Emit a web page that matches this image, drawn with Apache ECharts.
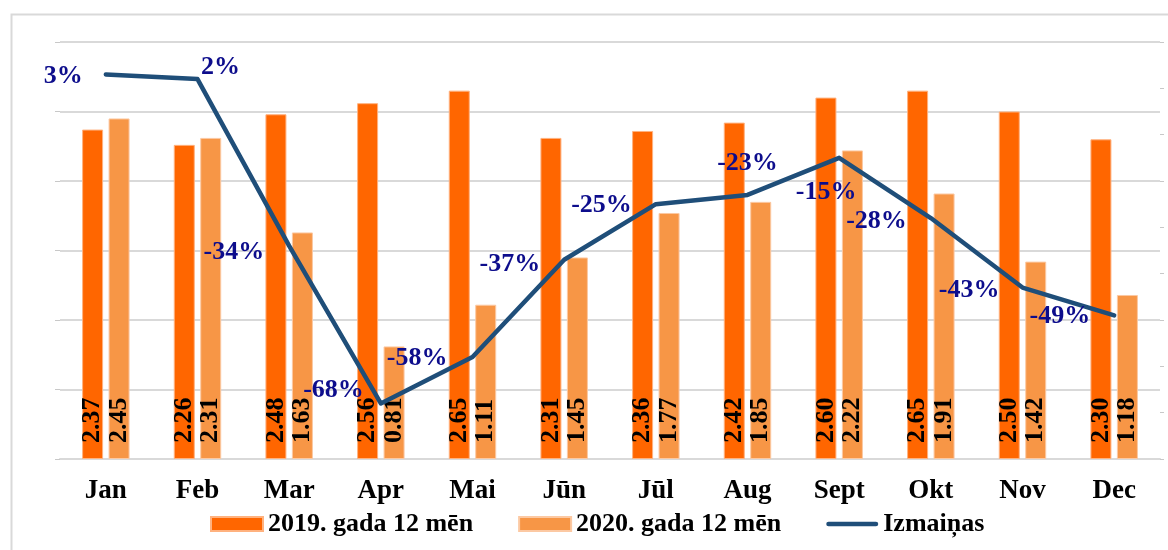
<!DOCTYPE html>
<html>
<head>
<meta charset="utf-8">
<style>
  html, body { margin: 0; padding: 0; background: #fff; }
  #chart { width: 1168px; height: 550px; }
</style>
</head>
<body>
<div id="chart"></div>
<script src="https://cdn.jsdelivr.net/npm/echarts@6/dist/echarts.min.js"></script>
<script type="text/javascript">
  // kategorijas un dati
  var months = ['Jan', 'Feb', 'Mar', 'Apr', 'Mai', 'Jūn', 'Jūl', 'Aug', 'Sept', 'Okt', 'Nov', 'Dec'];
  var values2019 = [2.37, 2.26, 2.48, 2.56, 2.65, 2.31, 2.36, 2.42, 2.60, 2.65, 2.50, 2.30];
  var values2020 = [2.45, 2.31, 1.63, 0.81, 1.11, 1.45, 1.77, 1.85, 2.22, 1.91, 1.42, 1.18];
  var change = [3, 2, -34, -68, -58, -37, -25, -23, -15, -28, -43, -49];

  var seriesNames = ['2019. gada 12 mēn', '2020. gada 12 mēn', 'Izmaiņas'];

  var serif = '"Liberation Serif", "Times New Roman", serif';

  // izmaiņu etiķešu novietojums
  var labelPos = [
    { position: 'left', distance: 22, offset: [0, 2] },
    { position: 'top', distance: 4, offset: [23, 6] },
    { position: 'left', distance: 24, offset: [0, 6] },
    { position: 'left', distance: 16, offset: [0, -13] },
    { position: 'left', distance: 24, offset: [0, 1] },
    { position: 'left', distance: 23, offset: [0, 5] },
    { position: 'left', distance: 23, offset: [0, 1] },
    { position: 'top', distance: 18, offset: [0, 0] },
    { position: 'bottom', distance: 20, offset: [-13, 0] },
    { position: 'left', distance: 23, offset: [0, 3] },
    { position: 'left', distance: 22, offset: [0, 3] },
    { position: 'left', distance: 23, offset: [0, 1] }
  ];

  var lineData = change.map(function (v, i) {
    return { value: v, label: labelPos[i] };
  });

  var chart = echarts.init(document.getElementById('chart'));

  var barLabel = {
    show: true,
    rotate: 90,
    position: 'insideBottom',
    align: 'left',
    verticalAlign: 'middle',
    distance: 16,
    color: '#000',
    fontFamily: serif,
    fontWeight: 'bold',
    fontSize: 26,
    formatter: function (p) { return p.value.toFixed(2); }
  };

  var option = {
    animation: false,
    graphic: [{
      type: 'rect',
      left: 9, top: 12,
      shape: { width: 1200, height: 600 },
      style: { fill: 'none', stroke: '#d9d9d9', lineWidth: 2 },
      silent: true
    }],
    grid: { left: 60, right: 8, top: 42, bottom: 91 },
    legend: {
      left: 205,
      top: 506,
      itemWidth: 52,
      itemHeight: 14,
      itemGap: 45,
      textStyle: { fontFamily: serif, fontWeight: 'bold', fontSize: 26, color: '#000' },
      data: [
        { name: seriesNames[0], icon: 'rect' },
        { name: seriesNames[1], icon: 'rect' },
        { name: seriesNames[2], icon: 'path://M2.5,0 H54.5 A2.5,2.5 0 0 1 54.5,5 H2.5 A2.5,2.5 0 0 1 2.5,0 Z' }
      ]
    },
    xAxis: {
      type: 'category',
      data: months,
      axisLine: { show: true, lineStyle: { color: '#d9d9d9', width: 2 } },
      axisTick: { show: false },
      axisLabel: {
        margin: 19,
        color: '#000',
        fontFamily: serif,
        fontWeight: 'bold',
        fontSize: 27
      }
    },
    yAxis: [{
      type: 'value',
      min: 0,
      max: 3,
      interval: 0.5,
      axisLine: { show: false },
      axisTick: { show: true, length: 5, lineStyle: { color: '#c8c8c8' } },
      axisLabel: { show: false },
      splitLine: { lineStyle: { color: '#d9d9d9', width: 2 } }
    }, {
      type: 'value',
      min: -80,
      max: 10,
      interval: 10,
      axisLine: { show: false },
      axisTick: { show: true, length: 4, lineStyle: { color: '#c8c8c8' } },
      axisLabel: { show: false },
      splitLine: { show: false }
    }],
    series: [{
      name: seriesNames[0],
      type: 'bar',
      data: values2019,
      barWidth: 21,
      barGap: '26%',
      itemStyle: { color: '#FF6600', borderColor: '#ffb27f', borderWidth: 1 },
      label: barLabel
    }, {
      name: seriesNames[1],
      type: 'bar',
      data: values2020,
      barWidth: 21,
      itemStyle: { color: '#F79646', borderColor: '#fcc9a3', borderWidth: 1 },
      label: barLabel
    }, {
      name: seriesNames[2],
      type: 'line',
      yAxisIndex: 1,
      data: lineData,
      symbol: 'circle',
      symbolSize: 2,
      z: 5,
      lineStyle: { color: '#1F4E79', width: 4.5, cap: 'round', join: 'round' },
      itemStyle: { color: '#1F4E79' },
      label: {
        show: true,
        color: '#0d0d8c',
        fontFamily: serif,
        fontWeight: 'bold',
        fontSize: 26,
        formatter: function (p) { return p.value + '%'; }
      }
    }]
  };

  chart.setOption(option);
</script>
</body>
</html>
